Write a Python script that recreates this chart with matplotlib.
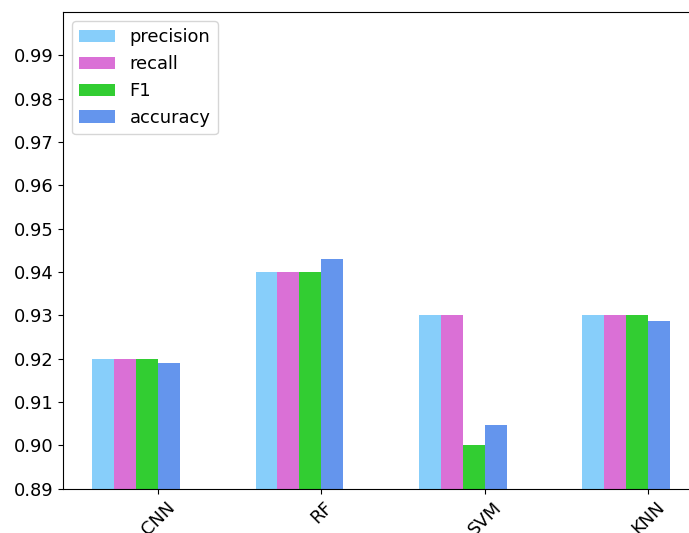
import numpy as np
import matplotlib
matplotlib.use("Agg")
import matplotlib.pyplot as plt

models = ["CNN", "RF", "SVM", "KNN"]
precision = [0.92, 0.94, 0.93, 0.93]
recall = [0.92, 0.94, 0.93, 0.93]
f1 = [0.92, 0.94, 0.90, 0.93]
accuracy = [0.9189, 0.9429, 0.9048, 0.9287]

series = [
    ("precision", precision, "lightskyblue"),
    ("recall", recall, "orchid"),
    ("F1", f1, "limegreen"),
    ("accuracy", accuracy, "cornflowerblue"),
]

plt.rcParams["font.size"] = 12.9

fig = plt.figure(figsize=(6.89, 5.33), dpi=100)
ax = fig.add_axes([63.3 / 689, 44.3 / 533, (698.9 - 63.3) / 689, (521 - 44.3) / 533])

x = np.arange(len(models))
w = 0.1345
for i, (name, vals, color) in enumerate(series):
    ax.bar(x + (i - 2.5) * w, vals, width=w, color=color, label=name)

ax.set_ylim(0.89, 1.0)
ax.set_yticks(np.arange(0.89, 0.995, 0.01))
ax.set_xticks(x)
ax.set_xticklabels(models, rotation=45)
ax.legend(loc="upper left")

fig.savefig("out.png", dpi=100)
